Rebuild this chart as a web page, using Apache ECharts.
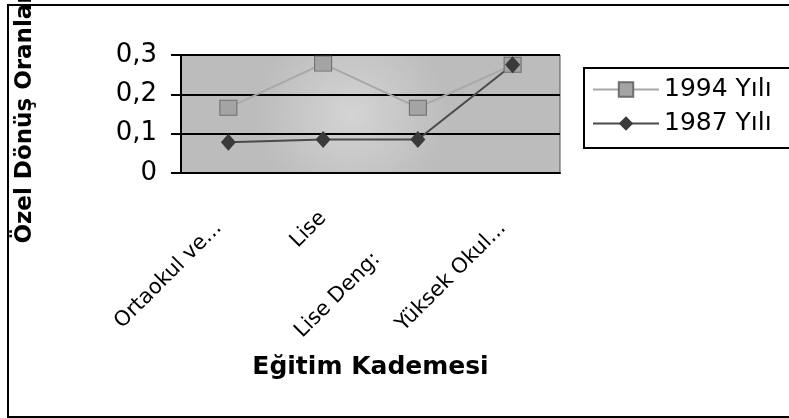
<!DOCTYPE html>
<html>
<head>
<meta charset="utf-8">
<script src="https://cdn.jsdelivr.net/npm/echarts@6/dist/echarts.min.js"></script>
<style>
  html, body { margin: 0; padding: 0; background: #fff; }
  #chart { width: 789px; height: 418px; }
</style>
</head>
<body>
<div id="chart"></div>
<script>
// Eğitim kademelerine göre özel dönüş oranları
const categories = ['Ortaokul ve...', 'Lise', 'Lise Deng:', 'Yüksek Okul...'];
const seriesNames = ['1994 Yılı', '1987 Yılı'];
const values1994 = [0.166, 0.278, 0.166, 0.275];
const values1987 = [0.078, 0.085, 0.085, 0.275];
const yTicks = [0, 0.1, 0.2, 0.3];

// etiketlerin metin yönünde geri kaydırılması (Excel yerleşimi gibi)
const labelShift = [14, 0, 58, 14];

const chart = echarts.init(document.getElementById('chart'));

const option = {
  backgroundColor: '#fff',
  animation: false,
  textStyle: { fontFamily: 'DejaVu Sans' },
  graphic: [
    {
      type: 'rect',
      shape: { x: 8, y: 5, width: 800, height: 412 },
      style: { fill: 'none', stroke: '#000', lineWidth: 2 },
      z: 100,
    },
  ],
  legend: {
    left: 584,
    top: 68,
    orient: 'vertical',
    data: seriesNames,
    backgroundColor: '#fff',
    borderColor: '#000',
    borderWidth: 2,
    padding: [9, 40, 12, 8],
    itemGap: 9,
    itemWidth: 66,
    itemHeight: 18,
    selectedMode: false,
    textStyle: { color: '#000', fontSize: 25, fontFamily: 'DejaVu Sans' },
  },
  grid: {
    left: 181,
    top: 55,
    width: 379,
    height: 118,
    containLabel: false,
    outerBoundsMode: 'none',
    show: true,
    backgroundColor: {
      type: 'radial',
      x: 0.45,
      y: 0.5,
      r: 0.8,
      colorStops: [
        { offset: 0, color: '#d4d4d4' },
        { offset: 1, color: '#bcbcbc' },
      ],
    },
    borderColor: '#555',
    borderWidth: 1,
  },
  xAxis: {
    type: 'category',
    data: categories.map((c, i) => ({
      value: c,
      textStyle: { padding: [0, labelShift[i], 0, 0] },
    })),
    boundaryGap: true,
    name: 'Eğitim Kademesi',
    nameLocation: 'middle',
    nameGap: 182,
    nameTextStyle: {
      color: '#000',
      fontSize: 25,
      fontWeight: 'bold',
      fontFamily: 'DejaVu Sans',
    },
    axisLine: { lineStyle: { color: '#000', width: 2 } },
    axisTick: { length: 9, lineStyle: { color: '#000', width: 2 } },
    axisLabel: {
      rotate: 45,
      margin: 42,
      interval: 0,
      color: '#000',
      fontSize: 21,
      fontFamily: 'DejaVu Sans',
    },
  },
  yAxis: {
    type: 'value',
    min: yTicks[0],
    max: yTicks[yTicks.length - 1],
    interval: 0.1,
    name: 'Özel Dönüş Oranları',
    nameLocation: 'middle',
    nameGap: 144,
    nameTextStyle: {
      color: '#000',
      fontSize: 23,
      fontWeight: 'bold',
      fontFamily: 'DejaVu Sans',
    },
    axisLine: { show: true, lineStyle: { color: '#000', width: 2 } },
    axisTick: { show: true, length: 10, lineStyle: { color: '#000', width: 2 } },
    axisLabel: {
      margin: 24,
      color: '#000',
      fontSize: 26,
      fontFamily: 'DejaVu Sans',
      formatter: v => String(Math.round(v * 10) / 10).replace('.', ','),
    },
    splitLine: { lineStyle: { color: '#000', width: 2 } },
  },
  series: [
    {
      name: seriesNames[0],
      type: 'line',
      data: values1994,
      symbol: 'rect',
      symbolSize: [17, 15],
      lineStyle: { color: '#a8a8a8', width: 2 },
      itemStyle: { color: '#a4a4a4', borderColor: '#6e6e6e', borderWidth: 1 },
    },
    {
      name: seriesNames[1],
      type: 'line',
      data: values1987,
      symbol: 'diamond',
      symbolSize: [15, 17],
      lineStyle: { color: '#4a4a4a', width: 2 },
      itemStyle: { color: '#3a3a3a' },
    },
  ],
};

chart.setOption(option);
</script>
</body>
</html>
